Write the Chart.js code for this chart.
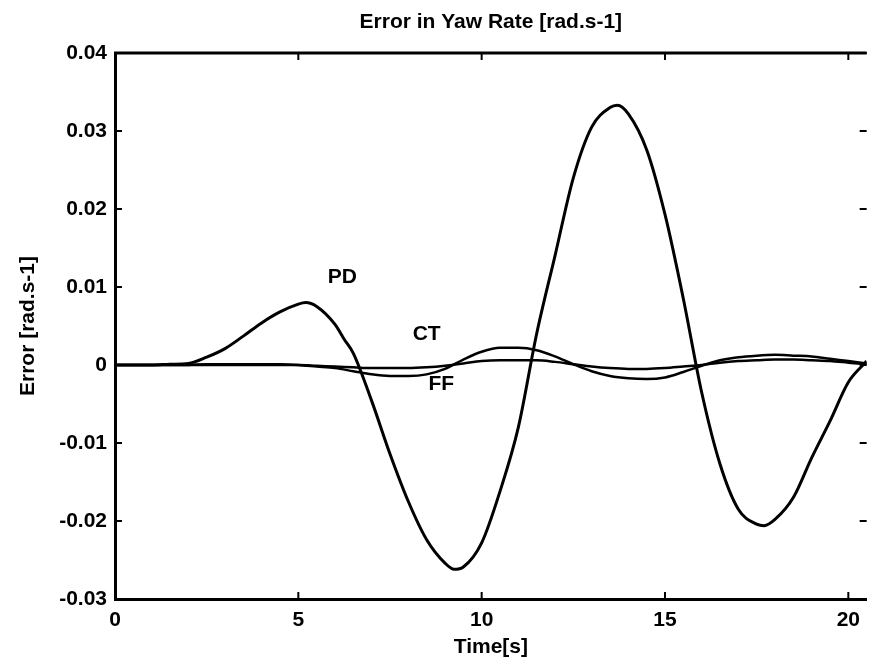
<!DOCTYPE html>
<html>
<head>
<meta charset="utf-8">
<script src="https://cdn.jsdelivr.net/npm/chart.js@4.4.1/dist/chart.umd.min.js"></script>
<style>
  html, body { margin: 0; padding: 0; background: #fff; }
  canvas { display: block; }
</style>
</head>
<body>
<canvas id="myChart" width="869" height="665"></canvas>
<script>
// PD controller error
const pdTime = [0, 1, 1.5, 2, 2.5, 3, 3.5, 4, 4.5, 5, 5.2, 5.5, 6, 6.25, 6.5, 7, 7.5, 8, 8.5, 9, 9.25, 9.5,
  10, 10.5, 11, 11.5, 12, 12.5, 13, 13.5, 13.7, 14, 14.5, 15, 15.5, 16, 16.5, 17, 17.5, 17.7, 18, 18.5,
  19, 19.5, 20, 20.5];
const pdValues = [0, 0, 0.0001, 0.0002, 0.001, 0.0021, 0.0037, 0.0054, 0.0068, 0.0078, 0.008, 0.0075, 0.0052,
  0.0033, 0.0015, -0.0046, -0.0114, -0.0175, -0.0224, -0.0254, -0.0262, -0.0259, -0.0228, -0.0162, -0.008,
  0.004, 0.014, 0.024, 0.0305, 0.033, 0.0333, 0.0322, 0.0276, 0.0193, 0.0085, -0.0035, -0.0127, -0.0185,
  -0.0204, -0.0206, -0.0198, -0.017, -0.0119, -0.0072, -0.0022, 0.0005];

// CT and FF share one time base
const time = [0, 0.5, 1, 1.5, 2, 2.5, 3, 3.5, 4, 4.5, 5, 5.5, 6, 6.5, 7, 7.5, 8, 8.5, 9, 9.5, 10, 10.5,
  11, 11.5, 12, 12.5, 13, 13.5, 14, 14.5, 15, 15.5, 16, 16.5, 17, 17.5, 18, 18.5, 19, 19.5, 20, 20.5];
const ctValues = [0, 0, 0, 0, 0, 0, 0, 0, 0, 0, 0, -0.0001, -0.0002, -0.0003, -0.0004, -0.0004, -0.0004,
  -0.0003, -0.0001, 0.0002, 0.0005, 0.0006, 0.0006, 0.0006, 0.0004, 0.0001, -0.0002, -0.0004, -0.0005,
  -0.0005, -0.0004, -0.0002, 0, 0.0003, 0.0005, 0.0006, 0.0007, 0.0007, 0.0006, 0.0005, 0.0003, 0.0001];
const ffValues = [0, 0, 0, 0, 0, 0.0001, 0.0001, 0.0001, 0.0001, 0.0001, 0, -0.0002, -0.0004, -0.0008,
  -0.0012, -0.0014, -0.0014, -0.0012, -0.0005, 0.0007, 0.0017, 0.0022, 0.0022, 0.0019, 0.0011, 0.0001,
  -0.0008, -0.0014, -0.0017, -0.0018, -0.0016, -0.0009, -0.0001, 0.0006, 0.001, 0.0012, 0.0013, 0.0012,
  0.0011, 0.0008, 0.0005, 0.0002];

const xTicks = [0, 5, 10, 15, 20];
const yTicks = [-0.03, -0.02, -0.01, 0, 0.01, 0.02, 0.03, 0.04];

// text tags placed next to the curves
const curveLabels = ["PD", "CT", "FF"];
const labelTime = [6.2, 8.5, 8.9];
const labelValue = [0.0113, 0.004, -0.0024];

const FONT = "'Liberation Sans', Arial, sans-serif";

function toPoints(xs, ys) {
  return xs.map((x, i) => ({ x: x, y: ys[i] }));
}

const framePlugin = {
  id: "frame",
  afterDraw(chart) {
    const { ctx, chartArea, scales } = chart;
    const { left, right, top, bottom } = chartArea;
    ctx.save();
    ctx.strokeStyle = "#000";
    ctx.lineWidth = 3;
    ctx.beginPath();
    ctx.moveTo(left - 1, top);
    ctx.lineTo(right, top);
    ctx.stroke();

    // inward ticks, matlab style
    ctx.lineWidth = 2;
    const tl = 7;
    xTicks.forEach(v => {
      const x = scales.x.getPixelForValue(v);
      ctx.beginPath();
      ctx.moveTo(x, bottom); ctx.lineTo(x, bottom - tl);
      ctx.moveTo(x, top); ctx.lineTo(x, top + tl);
      ctx.stroke();
    });
    yTicks.forEach(v => {
      const y = scales.y.getPixelForValue(v);
      ctx.beginPath();
      ctx.moveTo(left, y); ctx.lineTo(left + tl, y);
      ctx.moveTo(right, y); ctx.lineTo(right - tl, y);
      ctx.stroke();
    });

    ctx.fillStyle = "#000";
    ctx.textAlign = "center";
    ctx.textBaseline = "middle";
    ctx.font = "bold 21px " + FONT;
    ctx.fillText("Error in Yaw Rate [rad.s-1]", (left + right) / 2, 22);

    curveLabels.forEach((txt, i) => {
      ctx.fillText(txt, scales.x.getPixelForValue(labelTime[i]), scales.y.getPixelForValue(labelValue[i]));
    });
    ctx.restore();
  }
};

const lineStyle = {
  borderColor: "#000",
  backgroundColor: "#000",
  pointRadius: 0,
  fill: false,
  cubicInterpolationMode: "monotone"
};

const data = {
  datasets: [
    { label: "CT", data: toPoints(time, ctValues), borderWidth: 2.5, ...lineStyle },
    { label: "FF", data: toPoints(time, ffValues), borderWidth: 2.5, ...lineStyle },
    { label: "PD", data: toPoints(pdTime, pdValues), borderWidth: 3, ...lineStyle }
  ]
};

const options = {
  responsive: false,
  animation: false,
  devicePixelRatio: 1,
  layout: { padding: { top: 53, left: 0, right: 0, bottom: 0 } },
  plugins: {
    legend: { display: false },
    tooltip: { enabled: false }
  },
  scales: {
    x: {
      type: "linear",
      min: 0,
      max: 20.5,
      afterBuildTicks: s => { s.ticks = xTicks.map(v => ({ value: v })); },
      afterFit: s => { s.height = 66; },
      grid: { display: false, drawTicks: false },
      border: { display: true, color: "#000", width: 3 },
      ticks: { color: "#000", padding: 9, maxRotation: 0, font: { family: FONT, size: 21, weight: "bold" } },
      title: {
        display: true,
        text: "Time[s]",
        color: "#000",
        padding: { top: 0, bottom: 5 },
        font: { family: FONT, size: 21, weight: "bold" }
      }
    },
    y: {
      type: "linear",
      min: -0.03,
      max: 0.04,
      afterBuildTicks: s => { s.ticks = yTicks.map(v => ({ value: v })); },
      afterFit: s => { s.width = 115; },
      grid: { display: false, drawTicks: false },
      border: { display: true, color: "#000", width: 3 },
      ticks: {
        color: "#000",
        padding: 8,
        font: { family: FONT, size: 21, weight: "bold" },
        callback: v => (v === 0 ? "0" : v.toFixed(2))
      },
      title: {
        display: true,
        text: "Error [rad.s-1]",
        color: "#000",
        padding: { top: 16, bottom: 0 },
        font: { family: FONT, size: 21, weight: "bold" }
      }
    }
  }
};

const config = {
  type: "line",
  data: data,
  options,
  plugins: [framePlugin]
};

const myChart = new Chart(document.getElementById("myChart"), config);
</script>
</body>
</html>
